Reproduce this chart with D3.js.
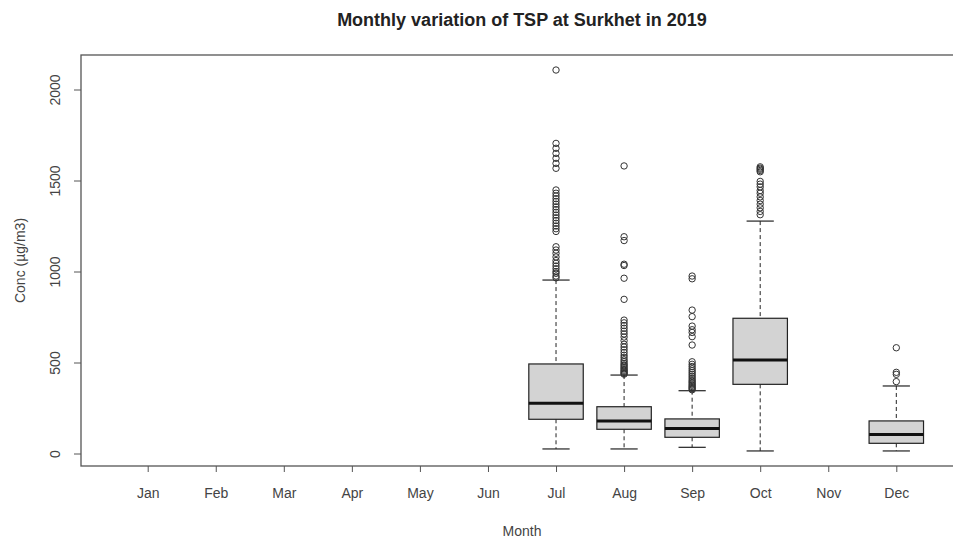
<!DOCTYPE html>
<html lang="en">
<head>
  <meta charset="UTF-8">
  <title>Monthly variation of TSP at Surkhet in 2019</title>
  <script src="https://d3js.org/d3.v7.min.js"></script>
  <style>
    body { margin: 0; background: #fff; }
    text { font-family: "Liberation Sans", Arial, sans-serif; }
  </style>
</head>
<body>
  <div id="viz"></div>

  <script>
    const months = ['Jan', 'Feb', 'Mar', 'Apr', 'May', 'Jun', 'Jul', 'Aug', 'Sep', 'Oct', 'Nov', 'Dec'];

    // box stats: [lower whisker, Q1, median, Q3, upper whisker]
    const statMonths = ['Jul', 'Aug', 'Sep', 'Oct', 'Dec'];
    const lowWhisker = [25, 25, 34, 14, 14];
    const q1Values = [188, 133, 89, 380, 56];
    const medians = [276, 179, 138, 514, 105];
    const q3Values = [492, 257, 190, 743, 179];
    const highWhisker = [953, 431, 345, 1277, 371];

    // outliers per month
    const outJul = [2107, 1704, 1677, 1649, 1622, 1594, 1567, 1448, 1430, 1415, 1400, 1385, 1370, 1355, 1340,
      1325, 1310, 1295, 1280, 1265, 1250, 1235, 1220, 1136, 1118, 1100, 1080, 1060, 1045, 1030, 1015, 1000, 990, 975, 965];
    const outAug = [1580, 1191, 1170, 1040, 1033, 963, 847, 733, 718, 703, 688, 672, 657, 640, 620, 600, 585, 570,
      555, 540, 528, 515, 505, 495, 487, 480, 472, 465, 458, 452, 446, 440, 436];
    const outSep = [975, 960, 788, 752, 700, 680, 665, 642, 596, 504, 490, 478, 466, 455, 445, 435, 425, 415, 405,
      397, 390, 382, 375, 368, 362, 356, 350];
    const outOct = [1575, 1568, 1562, 1555, 1548, 1495, 1480, 1465, 1445, 1430, 1410, 1390, 1370, 1350, 1330, 1312];
    const outDec = [581, 446, 435, 395];
    const outliers = [outJul, outAug, outSep, outOct, outDec];

    const yTicks = [0, 500, 1000, 1500, 2000];

    const W = 953, H = 539;
    const frame = { left: 81, right: 963, top: 55, bottom: 466 };

    const svg = d3.select('#viz')
      .append('svg')
        .attr('width', W)
        .attr('height', H);

    // R style: x from 0.5 to 12.5 plus 4% expansion
    const x = d3.scaleLinear().domain([0.02, 12.98]).range([frame.left, frame.right]);
    const y = d3.scaleLinear().domain([0, 2000]).range([453.5, 89.5]);
    const xm = m => x(months.indexOf(m) + 1);

    const boxW = x(0.8) - x(0);
    const capW = boxW / 2;

    const boxes = statMonths.map((m, i) => ({
      month: m,
      lo: lowWhisker[i], q1: q1Values[i], med: medians[i], q3: q3Values[i], hi: highWhisker[i],
      out: outliers[i]
    }));

    const g = svg.append('g');

    const b = g.selectAll('g.box')
      .data(boxes)
      .enter()
      .append('g')
        .attr('class', 'box');

    // dashed whiskers
    b.append('line')
      .attr('x1', d => xm(d.month)).attr('x2', d => xm(d.month))
      .attr('y1', d => y(d.hi)).attr('y2', d => y(d.q3))
      .attr('stroke', '#222').attr('stroke-width', 1).attr('stroke-dasharray', '4,3');
    b.append('line')
      .attr('x1', d => xm(d.month)).attr('x2', d => xm(d.month))
      .attr('y1', d => y(d.q1)).attr('y2', d => y(d.lo))
      .attr('stroke', '#222').attr('stroke-width', 1).attr('stroke-dasharray', '4,3');

    // caps
    b.append('line')
      .attr('x1', d => xm(d.month) - capW / 2).attr('x2', d => xm(d.month) + capW / 2)
      .attr('y1', d => y(d.hi)).attr('y2', d => y(d.hi))
      .attr('stroke', '#222').attr('stroke-width', 1.2);
    b.append('line')
      .attr('x1', d => xm(d.month) - capW / 2).attr('x2', d => xm(d.month) + capW / 2)
      .attr('y1', d => y(d.lo)).attr('y2', d => y(d.lo))
      .attr('stroke', '#222').attr('stroke-width', 1.2);

    // box
    b.append('rect')
      .attr('x', d => xm(d.month) - boxW / 2)
      .attr('y', d => y(d.q3))
      .attr('width', boxW)
      .attr('height', d => y(d.q1) - y(d.q3))
      .attr('fill', '#d3d3d3')
      .attr('stroke', '#222')
      .attr('stroke-width', 1.2);

    // median
    b.append('line')
      .attr('x1', d => xm(d.month) - boxW / 2).attr('x2', d => xm(d.month) + boxW / 2)
      .attr('y1', d => y(d.med)).attr('y2', d => y(d.med))
      .attr('stroke', '#111').attr('stroke-width', 3);

    // outlier circles
    b.selectAll('circle')
      .data(d => d.out.map(v => ({ month: d.month, v: v })))
      .enter()
      .append('circle')
        .attr('cx', d => xm(d.month))
        .attr('cy', d => y(d.v))
        .attr('r', 3.2)
        .attr('fill', 'none')
        .attr('stroke', '#333')
        .attr('stroke-width', 1);

    // frame
    svg.append('rect')
      .attr('x', frame.left).attr('y', frame.top)
      .attr('width', frame.right - frame.left)
      .attr('height', frame.bottom - frame.top)
      .attr('fill', 'none')
      .attr('stroke', '#555')
      .attr('stroke-width', 1.3);

    // x axis
    const xAxis = d3.axisBottom(x)
      .tickValues(d3.range(1, 13))
      .tickFormat(d => months[d - 1])
      .tickSize(6)
      .tickPadding(16);
    const gx = svg.append('g')
      .attr('transform', `translate(0,${frame.bottom})`)
      .call(xAxis);
    gx.select('.domain').remove();
    gx.selectAll('line').attr('stroke', '#555');
    gx.selectAll('text').attr('fill', '#444').style('font-size', '14px');

    // y axis, labels rotated like R
    const yAxis = d3.axisLeft(y)
      .tickValues(yTicks)
      .tickFormat(d3.format('d'))
      .tickSize(7)
      .tickPadding(12);
    const gy = svg.append('g')
      .attr('transform', `translate(${frame.left},0)`)
      .call(yAxis);
    gy.select('.domain').remove();
    gy.selectAll('line').attr('stroke', '#555');
    gy.selectAll('text')
      .attr('fill', '#444')
      .style('font-size', '14px')
      .attr('x', null).attr('dy', null)
      .attr('text-anchor', 'middle')
      .attr('transform', 'translate(-25,0) rotate(-90)')
      .attr('y', 0)
      .attr('dominant-baseline', 'middle');

    // titles
    const cx = (frame.left + frame.right) / 2;
    svg.append('text')
      .attr('x', cx).attr('y', 26)
      .attr('text-anchor', 'middle')
      .style('font-size', '18px')
      .style('font-weight', 'bold')
      .attr('fill', '#222')
      .text('Monthly variation of TSP at Surkhet in 2019');

    svg.append('text')
      .attr('x', cx).attr('y', 536)
      .attr('text-anchor', 'middle')
      .style('font-size', '14px')
      .attr('fill', '#444')
      .text('Month');

    svg.append('text')
      .attr('transform', `translate(21,${(frame.top + frame.bottom) / 2}) rotate(-90)`)
      .attr('text-anchor', 'middle')
      .attr('dominant-baseline', 'middle')
      .style('font-size', '14px')
      .attr('fill', '#444')
      .text('Conc (µg/m3)');
  </script>
</body>
</html>
